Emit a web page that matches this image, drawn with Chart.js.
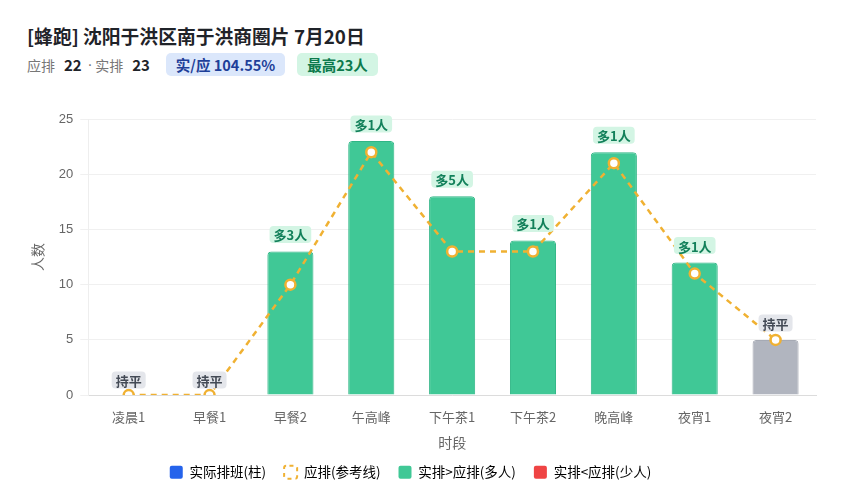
<!DOCTYPE html>
<html>
<head>
<meta charset="utf-8">
<script src="https://cdn.jsdelivr.net/npm/chart.js@4.4.1/dist/chart.umd.min.js"></script>
<style>
  body { margin: 0; background: #fff; font-family: "Noto Sans CJK SC", "Noto Sans", sans-serif; }
  #wrap { position: relative; width: 848px; height: 500px; overflow: hidden; }
  #title { position: absolute; left: 27px; top: 22px; font-size: 18.8px; font-weight: 700; color: #1f2329; }
  #sub { position: absolute; left: 27px; top: 53px; font-size: 14px; color: #777; display: flex; align-items: center; height: 23px; }
  #sub b { color: #1f2329; font-size: 15px; margin: 0 4px 0 9px; }
  #sub .dot { font-family: "DejaVu Sans", sans-serif; margin: 0 3px 0 2px; }
  .badge { display: inline-block; padding: 0 10px; border-radius: 5px; font-size: 14.5px; font-weight: 700; line-height: 23px; }
  .blue { background: #dbe7fb; color: #1e3f99; margin-left: 12px; }
  .green { background: #d3f5e4; color: #0c7a4c; margin-left: 12px; }
  #box { position: absolute; left: 0; top: 96px; width: 848px; height: 404px; }
</style>
</head>
<body>
<div id="wrap">
  <div id="title">[蜂跑] 沈阳于洪区南于洪商圈片 7月20日</div>
  <div id="sub">应排<b>22</b><span class="dot">·</span>实排<b>23</b>
    <span class="badge blue">实/应 104.55%</span>
    <span class="badge green">最高23人</span>
  </div>
  <div id="box"><canvas id="chart"></canvas></div>
</div>
<script>
// 时段
const slots = ["凌晨1", "早餐1", "早餐2", "午高峰", "下午茶1", "下午茶2", "晚高峰", "夜宵1", "夜宵2"];
// 实际排班
const actual = [0, 0, 13, 23, 18, 14, 22, 12, 5];
// 应排
const planned = [0, 0, 10, 22, 13, 13, 21, 11, 5];
const yTicks = [0, 5, 10, 15, 20, 25];

const GREEN = "#40c896";
const GREEN_EDGE = "#2fb585";
const GRAY = "#b1b5bf";
const RED = "#ef4444";
const BLUE = "#2563eb";
const ORANGE = "#f0b132";
const FONT = "'Noto Sans CJK SC'";

function diffText(i) {
  const d = actual[i] - planned[i];
  if (d > 0) return "多" + d + "人";
  if (d < 0) return "少" + (-d) + "人";
  return "持平";
}

// 柱顶的小标签
const pillPlugin = {
  id: "pills",
  afterLayout(chart) {
    // 图例整体往左挪一点
    chart.legend.left -= 10;
    chart.legend.right -= 10;
  },
  afterDatasetsDraw(chart) {
    const ctx = chart.ctx;
    const x = chart.scales.x, y = chart.scales.y;
    ctx.save();
    ctx.font = "bold 13px " + FONT;
    ctx.textAlign = "center";
    ctx.textBaseline = "middle";
    slots.forEach((s, i) => {
      const d = actual[i] - planned[i];
      const top = y.getPixelForValue(Math.max(actual[i], planned[i]));
      const cx = x.getPixelForValue(i);
      const cy = top - (actual[i] > 0 ? 17 : 15);
      const txt = diffText(i);
      const w = ctx.measureText(txt).width + 8, h = 17;
      ctx.fillStyle = d > 0 ? "#d3f5e4" : d < 0 ? "#fde2e2" : "#e4e6eb";
      ctx.beginPath();
      ctx.roundRect(cx - w / 2, cy - h / 2, w, h, 4);
      ctx.fill();
      ctx.fillStyle = d > 0 ? "#12805a" : d < 0 ? "#b91c1c" : "#434a55";
      ctx.fillText(txt, cx, cy + 1);
    });
    ctx.restore();
  }
};

new Chart(document.getElementById("chart"), {
  data: {
    labels: slots,
    datasets: [
      {
        type: "line",
        label: "应排(参考线)",
        data: planned,
        borderColor: ORANGE,
        borderWidth: 2.5,
        borderDash: [6, 5],
        pointRadius: 5,
        pointBorderWidth: 2.5,
        pointBackgroundColor: "#fff",
        pointBorderColor: ORANGE,
        tension: 0,
        order: 0
      },
      {
        type: "bar",
        label: "实际排班(柱)",
        data: actual,
        backgroundColor: actual.map((v, i) => v > planned[i] ? GREEN : v < planned[i] ? RED : GRAY),
        borderColor: actual.map((v, i) => v > planned[i] ? GREEN_EDGE : v < planned[i] ? "#dc2626" : "#a6aab4"),
        borderWidth: 1,
        borderRadius: 4,
        borderSkipped: "bottom",
        barPercentage: 0.57,
        categoryPercentage: 1,
        order: 1
      }
    ]
  },
  options: {
    responsive: true,
    maintainAspectRatio: false,
    animation: false,
    layout: { padding: { left: 25, right: 32, top: 23, bottom: 11 } },
    plugins: {
      tooltip: { enabled: false },
      legend: {
        position: "bottom",
        labels: {
          boxWidth: 13,
          boxHeight: 13,
          padding: 18,
          color: "#555",
          font: { size: 13.5, family: FONT },
          generateLabels: () => [
            { text: "实际排班(柱)", fillStyle: BLUE, strokeStyle: BLUE, lineWidth: 0, borderRadius: 2 },
            { text: "应排(参考线)", fillStyle: "rgba(0,0,0,0)", strokeStyle: ORANGE, lineWidth: 2, lineDash: [4, 4], borderRadius: 2 },
            { text: "实排>应排(多人)", fillStyle: GREEN, strokeStyle: GREEN, lineWidth: 0, borderRadius: 2 },
            { text: "实排<应排(少人)", fillStyle: RED, strokeStyle: RED, lineWidth: 0, borderRadius: 2 }
          ]
        }
      }
    },
    scales: {
      x: {
        grid: { display: false },
        border: { color: "#dcdcdc" },
        ticks: { color: "#666", font: { size: 13, family: FONT }, padding: 6 },
        title: { display: true, text: "时段", color: "#666", font: { size: 14, family: FONT }, padding: { top: 4, bottom: -4 } }
      },
      y: {
        min: 0,
        max: 25,
        afterBuildTicks: (axis) => { axis.ticks = yTicks.map(v => ({ value: v })); },
        grid: { color: "#f0f0f0" },
        border: { color: "#eeeeee" },
        ticks: { color: "#666", font: { size: 13 }, padding: 7 },
        title: { display: true, text: "人数", color: "#666", font: { size: 14, family: FONT }, padding: { top: 4, bottom: 6 } }
      }
    }
  },
  plugins: [pillPlugin]
});
</script>
</body>
</html>
